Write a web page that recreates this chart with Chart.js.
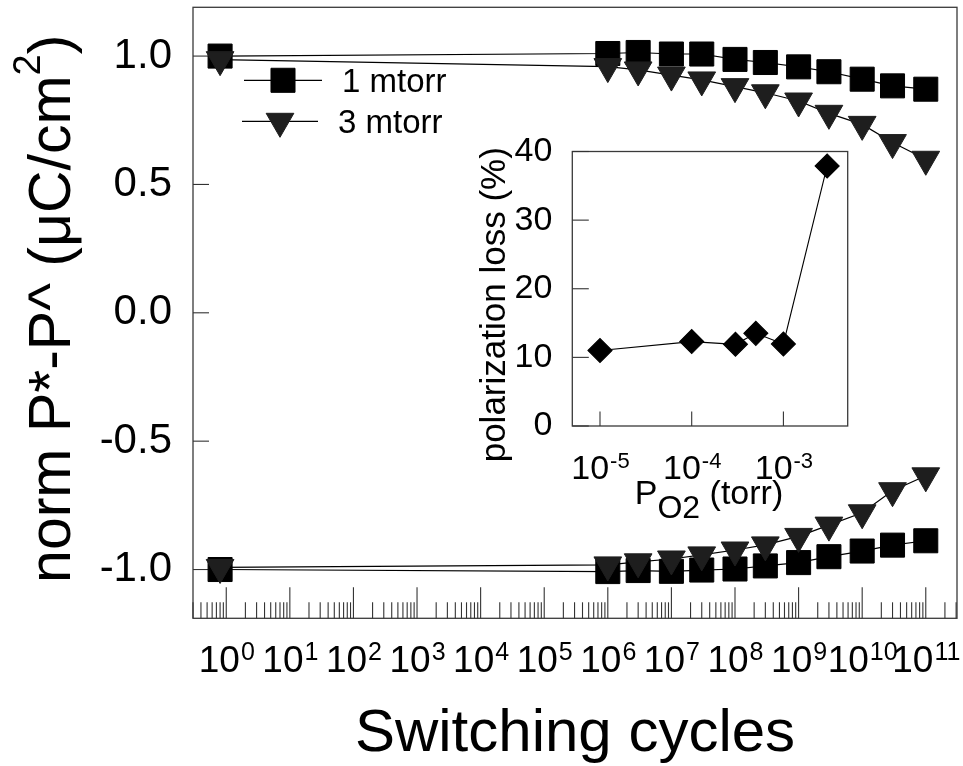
<!DOCTYPE html>
<html><head><meta charset="utf-8">
<script src="https://cdn.jsdelivr.net/npm/chart.js@4.4.1/dist/chart.umd.min.js"></script>
<style>
html,body{margin:0;padding:0;background:#fff;}
#wrap{position:relative;width:963px;height:766px;overflow:hidden;background:#fff;}
#main{position:absolute;left:0;top:0;}
#inset{position:absolute;left:460px;top:120px;}
</style></head><body>
<div id="wrap"><canvas id="main" width="963" height="766"></canvas><canvas id="inset" width="420" height="420"></canvas></div>
<script>
// ---- main chart data ----
const cycles = [0.8, 1e6, 3e6, 1e7, 3e7, 1e8, 3e8, 1e9, 3e9, 1e10, 3e10, 1e11];
const pStar1mtorr = [1.000, 1.010, 1.014, 1.008, 1.008, 0.987, 0.975, 0.958, 0.939, 0.910, 0.884, 0.871];
const pStar3mtorr = [0.986, 0.959, 0.946, 0.926, 0.907, 0.881, 0.857, 0.825, 0.777, 0.734, 0.663, 0.598];
const pHat1mtorr = [-1.000, -1.008, -1.004, -1.007, -1.002, -0.998, -0.986, -0.973, -0.950, -0.928, -0.905, -0.888];
const pHat3mtorr = [-0.992, -0.982, -0.970, -0.959, -0.943, -0.924, -0.904, -0.871, -0.827, -0.779, -0.693, -0.635];
const yTicks = [-1.0, -0.5, 0.0, 0.5, 1.0];
const xExponents = [0, 1, 2, 3, 4, 5, 6, 7, 8, 9, 10, 11];
const seriesNames = ['1 mtorr', '3 mtorr'];
// ---- inset data ----
const pO2 = [1e-5, 1e-4, 3e-4, 5e-4, 1e-3, 3e-3];
const polLoss = [11.0, 12.3, 11.9, 13.5, 11.95, 37.9];
const insetYTicks = [0, 10, 20, 30, 40];
const insetXExponents = [-5, -4, -3];

const FF = "'Liberation Sans', Arial, Helvetica, sans-serif";
const pts = (xs, ys) => xs.map((x, i) => ({x, y: ys[i]}));
const noPad = s => { s.paddingTop = 0; s.paddingBottom = 0; s.paddingLeft = 0; s.paddingRight = 0; };

function drawPow(ctx, cx, baseY, exp, baseSize, supSize, rise) {
  ctx.font = baseSize + 'px ' + FF; const wb = ctx.measureText('10').width;
  ctx.font = supSize + 'px ' + FF; const ws = ctx.measureText(exp).width;
  const x0 = cx - (wb + ws) / 2;
  ctx.textAlign = 'left'; ctx.textBaseline = 'alphabetic'; ctx.fillStyle = '#000';
  ctx.font = baseSize + 'px ' + FF; ctx.fillText('10', x0, baseY);
  ctx.font = supSize + 'px ' + FF; ctx.fillText(exp, x0 + wb + 1, baseY - rise);
}
function drawParts(ctx, parts, cx, baseY) {
  let total = 0;
  parts.forEach(p => { ctx.font = p.s + 'px ' + FF; p.w = ctx.measureText(p.t).width; total += p.w; });
  let x = cx - total / 2;
  ctx.textAlign = 'left'; ctx.textBaseline = 'alphabetic'; ctx.fillStyle = '#000';
  parts.forEach(p => { ctx.font = p.s + 'px ' + FF; ctx.fillText(p.t, x, baseY + p.dy); x += p.w; });
}
function seg(ctx, x1, y1, x2, y2) { ctx.beginPath(); ctx.moveTo(x1, y1); ctx.lineTo(x2, y2); ctx.stroke(); }

const mainDecor = {
  id: 'mainDecor',
  beforeDatasetsDraw(chart) {
    const {ctx, chartArea: a, scales: {x, y}} = chart;
    ctx.save();
    ctx.strokeStyle = '#3a3a3a'; ctx.lineWidth = 1.3;
    ctx.strokeRect(a.left, a.top, a.right - a.left, a.bottom - a.top);
    ctx.lineWidth = 1.1; ctx.strokeStyle = '#333';
    for (let e = -1; e <= 11; e++) for (let k = 1; k <= 9; k++) {
      const v = k * Math.pow(10, e);
      if (v < x.min || v > x.max) continue;
      const px = x.getPixelForValue(v);
      seg(ctx, px, a.bottom, px, a.bottom - (k === 1 ? 31 : 16));
    }
    yTicks.forEach(v => { const py = y.getPixelForValue(v); seg(ctx, a.left, py, a.left + 16, py); });
    ctx.restore();
  },
  afterDraw(chart) {
    const {ctx, chartArea: a, scales: {x}} = chart;
    ctx.save();
    xExponents.forEach(e => drawPow(ctx, x.getPixelForValue(Math.pow(10, e)), a.bottom + 53.4, String(e), 37, 25, 12));
    // y title
    ctx.save();
    ctx.translate(a.left - 123, (a.top + a.bottom) / 2 - 4);
    ctx.rotate(-Math.PI / 2);
    drawParts(ctx, [{t: 'norm P*-P^ (\u03BCC/cm', s: 59, dy: 0}, {t: '2', s: 38, dy: -30}, {t: ')', s: 59, dy: 0}], 0, 0);
    ctx.restore();
    // legend
    const ds = chart.data.datasets;
    const rows = [{d: ds[2], lx1: 51, lx2: 129, mx: 90, y: 73, tx: 149}, {d: ds[1], lx1: 49, lx2: 125, mx: 87, y: 114, tx: 145}];
    rows.forEach(r => {
      const yy = a.top + r.y;
      ctx.strokeStyle = '#000'; ctx.lineWidth = 1.2;
      seg(ctx, a.left + r.lx1, yy, a.left + r.lx2, yy);
      ctx.fillStyle = r.d.pointBackgroundColor; ctx.strokeStyle = r.d.pointBorderColor; ctx.lineWidth = 1;
      Chart.helpers.drawPoint(ctx, {pointStyle: r.d.pointStyle, radius: r.d.pointRadius, rotation: r.d.rotation || 0, borderWidth: 1}, a.left + r.mx, yy);
      ctx.fillStyle = '#000'; ctx.font = '33px ' + FF; ctx.textAlign = 'left'; ctx.textBaseline = 'alphabetic';
      ctx.fillText(r.d.label, a.left + r.tx, yy + 12);
    });
    ctx.restore();
  }
};

const mkDs = (label, data, style, color, rot, radius) => ({
  label, data, pointStyle: style, rotation: rot, pointRadius: radius, pointHoverRadius: radius,
  backgroundColor: color, borderColor: '#000', pointBorderColor: color, pointBackgroundColor: color,
  borderWidth: 1.2, pointBorderWidth: 1, tension: 0, fill: false, clip: false
});

new Chart(document.getElementById('main'), {
  type: 'line',
  data: {
    datasets: [
      mkDs(seriesNames[1], pts(cycles, pHat3mtorr), 'triangle', '#1e1e1e', 180, 16),
      mkDs(seriesNames[1], pts(cycles, pStar3mtorr), 'triangle', '#1e1e1e', 180, 16),
      mkDs(seriesNames[0], pts(cycles, pStar1mtorr), 'rect', '#000', 0, 17),
      mkDs(seriesNames[0], pts(cycles, pHat1mtorr), 'rect', '#000', 0, 17)
    ]
  },
  options: {
    responsive: false, animation: false, devicePixelRatio: 1,
    layout: {autoPadding: false, padding: {left: 0, top: 7.3, right: 6, bottom: 0}},
    plugins: {legend: {display: false}, tooltip: {enabled: false}},
    scales: {
      x: {
        type: 'logarithmic', min: Math.pow(10, -0.4648), max: Math.pow(10, 11.491),
        grid: {display: false, drawTicks: false}, border: {display: false},
        ticks: {display: false},
        title: {display: true, text: 'Switching cycles', color: '#000', font: {size: 60, family: FF, lineHeight: 1}, padding: {top: 0, bottom: 2}},
        afterFit: s => { s.height = 147.7; noPad(s); }
      },
      y: {
        type: 'linear', min: -1.19, max: 1.19,
        grid: {display: false, drawTicks: false}, border: {display: false},
        afterBuildTicks: s => { s.ticks = yTicks.map(v => ({value: v})); },
        ticks: {color: '#000', font: {size: 42, family: FF}, padding: 21, callback: v => Number(v).toFixed(1)},
        afterFit: s => { s.width = 193; noPad(s); }
      }
    }
  },
  plugins: [mainDecor]
});
</script>
<script>
const insetDecor = {
  id: 'insetDecor',
  beforeDatasetsDraw(chart) {
    const {ctx, chartArea: a, scales: {x, y}} = chart;
    ctx.save();
    ctx.strokeStyle = '#3a3a3a'; ctx.lineWidth = 1.3;
    ctx.strokeRect(a.left, a.top, a.right - a.left, a.bottom - a.top);
    ctx.lineWidth = 1.1; ctx.strokeStyle = '#333';
    insetXExponents.forEach(e => { const px = x.getPixelForValue(Math.pow(10, e)); seg(ctx, px, a.bottom, px, a.bottom - 14.5); });
    insetYTicks.forEach(v => { const py = y.getPixelForValue(v); seg(ctx, a.left, py, a.left + 16.5, py); });
    ctx.restore();
  },
  afterDraw(chart) {
    const {ctx, chartArea: a, scales: {x}} = chart;
    ctx.save();
    insetXExponents.forEach(e => drawPow(ctx, x.getPixelForValue(Math.pow(10, e)), a.bottom + 53.3, String(e), 34, 22, 11.3));
    const cx = (a.left + a.right) / 2;
    drawParts(ctx, [{t: 'P', s: 34, dy: 0}, {t: 'O2', s: 32, dy: 14}, {t: ' (torr)', s: 34, dy: 0}], cx - 1, a.bottom + 78);
    ctx.save();
    ctx.translate(a.left - 67, (a.top + a.bottom) / 2 + 16);
    ctx.rotate(-Math.PI / 2);
    drawParts(ctx, [{t: 'polarization loss (%)', s: 35, dy: 0}], 0, 0);
    ctx.restore();
    ctx.restore();
  }
};
new Chart(document.getElementById('inset'), {
  type: 'line',
  data: {datasets: [{label: 'polarization loss', data: pts(pO2, polLoss), pointStyle: 'rectRot', pointRadius: 12, pointHoverRadius: 12,
    backgroundColor: '#000', borderColor: '#000', pointBackgroundColor: '#000', pointBorderColor: '#000', borderWidth: 1.1, tension: 0, fill: false, clip: false}]},
  options: {
    responsive: false, animation: false, devicePixelRatio: 1,
    layout: {autoPadding: false, padding: {left: 0, top: 31.5, right: 32.3, bottom: 0}},
    plugins: {legend: {display: false}, tooltip: {enabled: false}},
    scales: {
      x: {type: 'logarithmic', min: Math.pow(10, -5.302), max: Math.pow(10, -2.299),
        grid: {display: false, drawTicks: false}, border: {display: false}, ticks: {display: false},
        afterFit: s => { s.height = 114; noPad(s); }},
      y: {type: 'linear', min: 0, max: 40,
        grid: {display: false, drawTicks: false}, border: {display: false},
        afterBuildTicks: s => { s.ticks = insetYTicks.map(v => ({value: v})); },
        ticks: {color: '#000', font: {size: 34, family: FF}, padding: 20},
        afterFit: s => { s.width = 112.3; noPad(s); }}
    }
  },
  plugins: [insetDecor]
});
</script>
</body></html>
